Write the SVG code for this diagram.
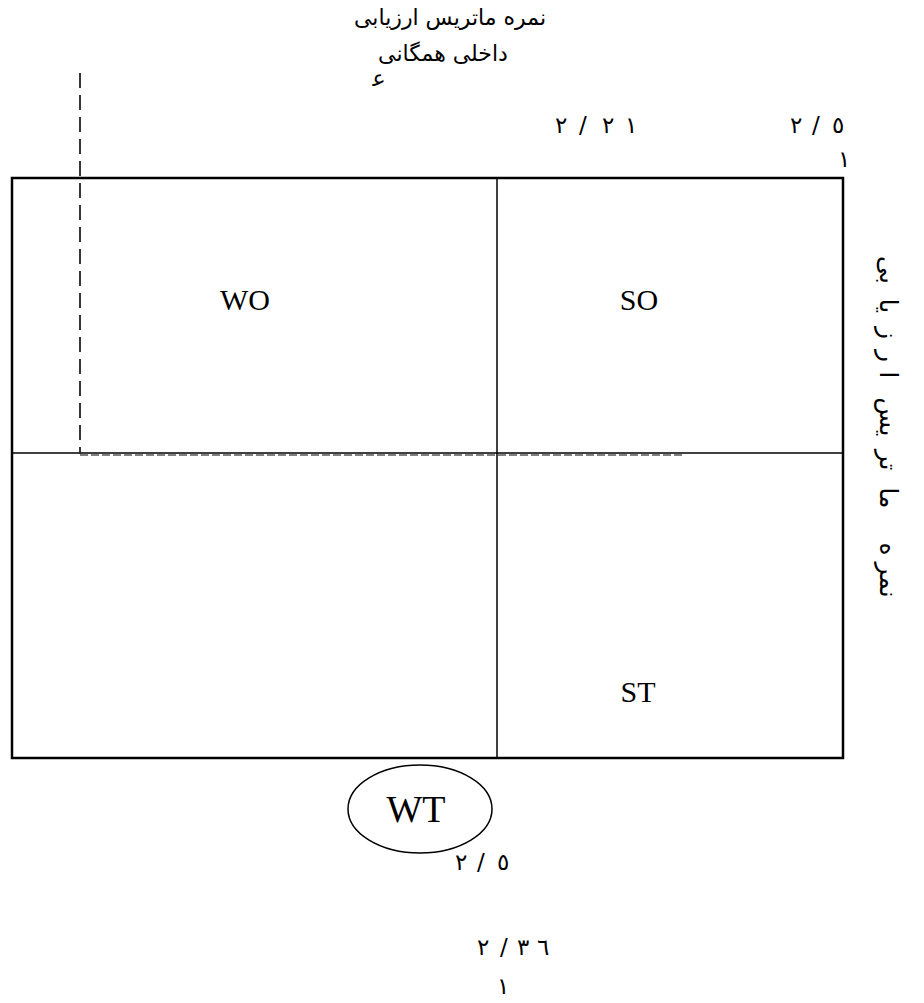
<svg xmlns="http://www.w3.org/2000/svg" width="924" height="1003" viewBox="0 0 924 1003">
<style>
.fa{font-family:"DejaVu Sans","Noto Sans",sans-serif;fill:#000}
.lat{font-family:"Liberation Serif","Times New Roman",serif;fill:#000}
.num{font-family:"DejaVu Sans",sans-serif;font-size:23px;fill:#000;direction:ltr;unicode-bidi:bidi-override}
.thick{fill:none;stroke:#000;stroke-width:2.5}
.thin{fill:none;stroke:#000;stroke-width:1.5}
.dash{fill:none;stroke:#222;stroke-width:1.8;stroke-dasharray:15 7}
.hdash{fill:none;stroke:#555;stroke-width:1.6;stroke-dasharray:8 3}
.rv{font-family:"DejaVu Sans","Noto Sans",sans-serif;font-size:25px;fill:#000;text-anchor:middle}
</style>
<rect width="924" height="1003" fill="#fff"/>
<g id="title">
<text class="fa" x="450" y="25" font-size="22" text-anchor="middle">نمره ماتریس ارزیابی</text>
<text class="fa" x="443" y="61" font-size="22" text-anchor="middle">داخلی همگانی</text>
<text class="fa" x="379" y="86" font-size="22" text-anchor="middle">ﻋ</text>
</g>
<g id="scale-top">
<text class="num" x="555 579 602 625" y="133">٢/٢١</text>
<text class="num" x="790 812 832" y="133">٢/٥</text>
<text class="num" x="838" y="167">١</text>
</g>
<g id="matrix">
<rect class="thick" x="12" y="178" width="831" height="580"/>
<line class="thin" x1="497" y1="178" x2="497" y2="758"/>
<line class="thin" x1="12" y1="453" x2="843" y2="453"/>
</g>
<g id="connectors">
<line class="dash" x1="80" y1="73" x2="80" y2="454"/>
<line class="hdash" x1="80" y1="455" x2="685" y2="455"/>
</g>
<g id="node-WO"><text class="lat" x="245" y="310" font-size="30" text-anchor="middle">WO</text></g>
<g id="node-SO"><text class="lat" x="639" y="310" font-size="30" text-anchor="middle">SO</text></g>
<g id="node-ST"><text class="lat" x="638" y="702" font-size="30" text-anchor="middle">ST</text></g>
<g id="node-WT">
<ellipse cx="420" cy="809" rx="72" ry="44" fill="none" stroke="#000" stroke-width="1.5"/>
<text class="lat" x="416" y="822" font-size="38" text-anchor="middle">WT</text>
</g>
<g id="scale-right">
<text class="rv" transform="translate(880,580) rotate(90)">نمر</text>
<text class="rv" transform="translate(880,549) rotate(90)">ه</text>
<text class="rv" transform="translate(880,498) rotate(90)">ما</text>
<text class="rv" transform="translate(880,460) rotate(90)">تر</text>
<text class="rv" transform="translate(880,417) rotate(90)">یس</text>
<text class="rv" transform="translate(880,375) rotate(90)">ا</text>
<text class="rv" transform="translate(880,356) rotate(90)">ر</text>
<text class="rv" transform="translate(880,333) rotate(90)">ز</text>
<text class="rv" transform="translate(880,306) rotate(90)">یا</text>
<text class="rv" transform="translate(880,270) rotate(90)">بی</text>
</g>
<g id="scale-bottom">
<text class="num" x="455 477 497" y="870">٢/٥</text>
<text class="num" x="477 500 517 537" y="955">٢/٣٦</text>
<text class="num" x="497" y="994">١</text>
</g>
</svg>
